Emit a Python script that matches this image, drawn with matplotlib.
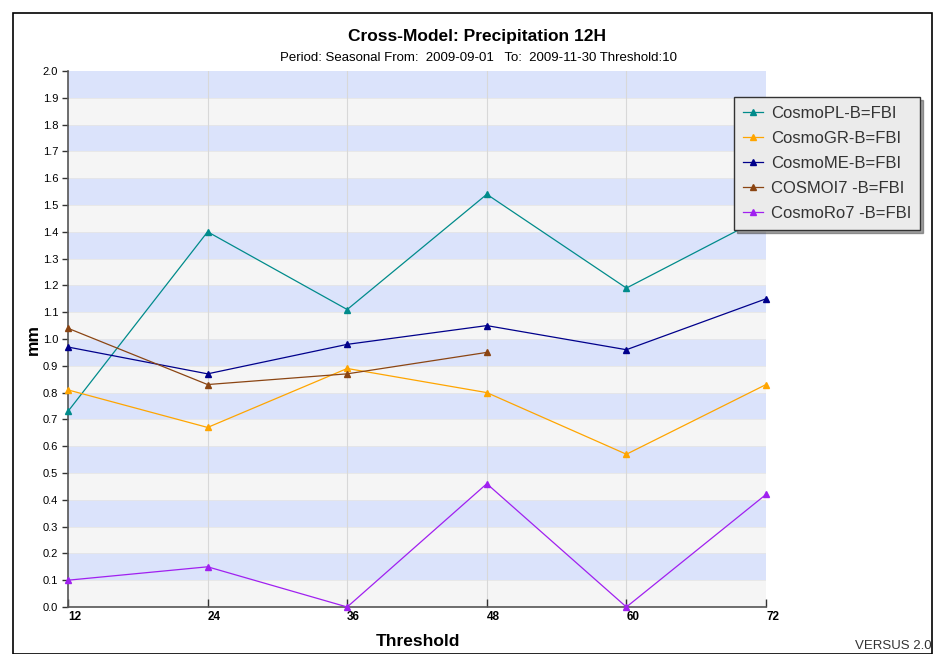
import matplotlib
matplotlib.use("Agg")
import matplotlib.pyplot as plt
from matplotlib.patches import Rectangle
from matplotlib.transforms import ScaledTranslation
import numpy as np

plt.rcParams['font.family'] = ['Liberation Sans Narrow', 'Liberation Sans', 'DejaVu Sans']

# data
thresholds = [12, 24, 36, 48, 60, 72]
cosmo_pl = [0.73, 1.40, 1.11, 1.54, 1.19, 1.46]
cosmo_gr = [0.81, 0.67, 0.89, 0.80, 0.57, 0.83]
cosmo_me = [0.97, 0.87, 0.98, 1.05, 0.96, 1.15]
cosmo_i7 = [1.04, 0.83, 0.87, 0.95]
cosmo_ro7 = [0.10, 0.15, 0.00, 0.46, 0.00, 0.42]
yticks = np.round(np.arange(0, 2.01, 0.1), 1)

series = [
    ("CosmoPL-B=FBI", cosmo_pl, "#008b8b"),
    ("CosmoGR-B=FBI", cosmo_gr, "#ffa500"),
    ("CosmoME-B=FBI", cosmo_me, "#00008b"),
    ("COSMOI7 -B=FBI", cosmo_i7, "#8b4513"),
    ("CosmoRo7 -B=FBI", cosmo_ro7, "#a020f0"),
]

fig = plt.figure(figsize=(9.35, 6.54), dpi=100)
ax = fig.add_axes([68/935, 1-607/654, (766-68)/935, (607-71)/654])

# alternating bands
for k in range(20):
    c = "#dbe3fb" if k % 2 == 1 else "#f5f5f5"
    ax.axhspan(k*0.1, (k+1)*0.1, color=c, lw=0, zorder=0)
for k in range(1, 20):
    ax.axhline(k*0.1, color="#e6e6e6", lw=0.6, zorder=0.5)
for x in thresholds[1:-1]:
    ax.axvline(x, color="#d8d8d8", lw=0.8, zorder=0.6)

for name, vals, col in series:
    ax.plot(thresholds[:len(vals)], vals, color=col, lw=0.9, marker="^",
            ms=5, label=name, zorder=3, clip_on=False)

ax.set_xlim(12, 72)
ax.set_ylim(0, 2.0)
ax.set_xticks(thresholds)
ax.set_xticklabels([str(t) for t in thresholds], fontweight="bold", fontsize=8.5)
off = ScaledTranslation(-1/100, 0, fig.dpi_scale_trans)
for lab in ax.get_xticklabels():
    lab.set_horizontalalignment("left")
    lab.set_transform(lab.get_transform() + off)
ax.set_yticks(yticks)
ax.set_yticklabels(["%.1f" % v for v in yticks], fontsize=8)
for sp in ["top", "right"]:
    ax.spines[sp].set_visible(False)
for sp in ["left", "bottom"]:
    ax.spines[sp].set_color("#555555")
    ax.spines[sp].set_linewidth(1.2)
ax.tick_params(axis="y", length=4, width=1, color="#333333", pad=3)
ax.tick_params(axis="x", direction="in", length=6, width=1, color="#333333", pad=3)

leg = ax.legend(loc="upper left", bbox_to_anchor=(734/935, 1-97/654),
                bbox_transform=fig.transFigure, fontsize=12, frameon=True,
                fancybox=False, shadow=True, borderpad=0.55, handlelength=1.2,
                labelspacing=0.6, handletextpad=0.45, borderaxespad=0)
leg.get_frame().set_facecolor("#ebebeb")
leg.get_frame().set_edgecolor("#333333")
leg.get_frame().set_alpha(1)
leg.set_zorder(10)
for t in leg.get_texts():
    t.set_color("#333333")

fig.text(477/935, 1 - 37/654, "Cross-Model: Precipitation 12H",
         ha="center", va="center", fontsize=12.5, fontweight="bold")
fig.text(478/935, 1 - 58/654,
         "Period: Seasonal From:  2009-09-01   To:  2009-11-30 Threshold:10",
         ha="center", va="center", fontsize=9.5)
fig.text(418/935, 1 - 641/654, "Threshold", ha="center", va="center",
         fontsize=12.5, fontweight="bold")
fig.text(33/935, 1 - 340/654, "mm", ha="center", va="center", rotation=90,
         fontsize=12.5, fontweight="bold")
fig.text(932/935, 1 - 646/654, "VERSUS 2.0", ha="right", va="center",
         fontsize=9.5, color="#333333")

fig.add_artist(Rectangle((13/935, 0), (932-13)/935, 1 - 13/654,
                         transform=fig.transFigure, fill=False,
                         edgecolor="black", lw=1.2))

fig.savefig("out.png", dpi=100)
